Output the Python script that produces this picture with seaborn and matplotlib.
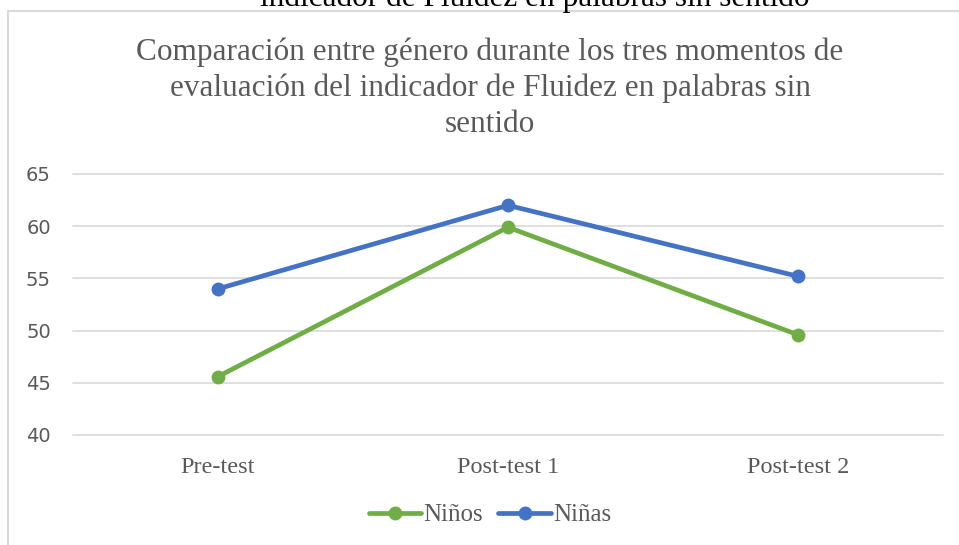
import matplotlib
matplotlib.use("Agg")
import matplotlib.pyplot as plt
from matplotlib.patches import Rectangle
import seaborn as sns
import pandas as pd

# Data
momentos = ["Pre-test", "Post-test 1", "Post-test 2"]
ninos = [45.6, 59.9, 49.6]
ninas = [54.0, 62.0, 55.2]
series = ["Niños", "Niñas"]
colores = ["#70AD47", "#4472C4"]

df = pd.DataFrame({
    "momento": momentos * 2,
    "valor": ninos + ninas,
    "genero": [series[0]] * 3 + [series[1]] * 3,
})

sns.set_style("white")
plt.rcParams["font.family"] = ["Liberation Serif", "DejaVu Serif"]

W, H = 959, 545
fig = plt.figure(figsize=(W / 100, H / 100), dpi=100)
ax = fig.add_axes([73 / W, 1 - 435 / H, (943 - 73) / W, (435 - 174) / H])

# chart border (cut at the right and bottom edges)
fig.patches.append(Rectangle((8 / W, -0.05), 1.0, 1 - 11 / H + 0.05,
                             transform=fig.transFigure, fill=False,
                             edgecolor="#D9D9D9", linewidth=1.5))

# caption from the document above, cut off at the top
fig.text(535 / W, 1 - 6 / H, "indicador de Fluidez en palabras sin sentido",
         ha="center", va="baseline", fontsize=22.5, color="black")

sns.lineplot(data=df, x="momento", y="valor", hue="genero", palette=colores,
             marker="o", markersize=10, markeredgewidth=0, linewidth=3.4,
             sort=False, ax=ax)

ax.set_xlim(-0.5, 2.5)
ax.set_ylim(40, 65)
ax.set_yticks([40, 45, 50, 55, 60, 65])
ax.grid(axis="y", color="#D9D9D9", linewidth=1.2)
for gl in ax.get_ygridlines():
    gl.set_clip_on(False)
ax.set_axisbelow(True)
for s in ax.spines.values():
    s.set_visible(False)
ax.tick_params(axis="both", length=0)
ax.tick_params(axis="x", pad=16, labelsize=17.5, labelcolor="#595959")
ax.tick_params(axis="y", pad=16, labelsize=14, labelcolor="#595959")
for lab in ax.get_yticklabels():
    lab.set_fontfamily("DejaVu Sans")
ax.set_xlabel("")
ax.set_ylabel("")

fig.text(490 / W, 1 - 88 / H,
         "Comparación entre género durante los tres momentos de\n"
         "evaluación del indicador de Fluidez en palabras sin\nsentido",
         ha="center", va="center", fontsize=22.5, color="#595959",
         linespacing=1.3)

leg = ax.legend(loc="center", bbox_to_anchor=(490 / W, 1 - 515 / H),
                bbox_transform=fig.transFigure, ncol=2, frameon=False,
                fontsize=18, handlelength=2.1, columnspacing=0.6,
                handletextpad=0.1)
for t in leg.get_texts():
    t.set_color("#595959")

fig.savefig("out.png", dpi=100)
